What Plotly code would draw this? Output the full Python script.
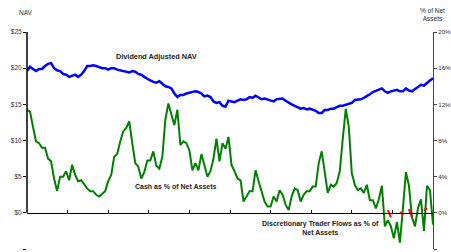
import plotly.graph_objects as go

# ---- data ----
periods = list(range(136))

nav_adjusted = [19.6,20.2,19.9,19.6,19.9,19.9,20.3,20.6,20.7,20.0,
                19.7,19.6,19.2,19.1,18.8,19.0,19.1,18.8,19.1,19.6,
                20.3,20.3,20.4,20.3,20.1,20.0,20.0,19.8,20.0,20.0,
                19.8,19.7,19.6,19.5,19.4,19.6,19.5,19.2,19.1,18.8,
                18.5,18.3,18.1,18.0,18.2,17.9,17.5,17.4,17.2,16.5,
                16.0,16.3,16.3,16.5,16.6,16.8,16.8,16.7,16.5,16.1,
                16.2,16.0,15.4,15.2,15.3,14.8,14.7,15.5,15.4,15.3,
                15.5,15.7,15.6,15.7,16.0,15.9,16.2,15.9,15.7,15.8,
                15.7,15.6,15.4,15.7,15.8,15.8,15.5,15.2,15.0,14.8,
                14.6,14.4,14.5,14.3,14.4,14.3,14.1,13.8,13.8,14.2,
                14.2,14.4,14.4,14.6,14.8,14.8,14.9,15.1,15.2,15.6,
                15.6,15.7,15.9,16.1,16.4,16.7,16.9,17.1,17.2,16.8,
                16.6,16.8,16.9,17.0,16.8,16.8,17.2,16.9,16.8,17.1,
                17.4,17.7,17.6,18.0,18.3,18.6]

cash_pct = [11.4,11.2,9.5,7.9,7.7,7.2,7.2,6.0,5.7,3.8,
            2.4,4.0,4.0,4.6,3.6,5.3,4.2,3.5,3.6,3.1,
            2.7,2.4,2.4,2.0,1.8,2.1,2.4,3.5,4.2,6.2,
            6.5,7.9,9.0,9.4,10.1,7.7,5.5,5.1,3.8,4.5,
            5.8,5.8,6.8,5.2,4.9,6.2,10.3,12.1,11.0,9.7,
            11.4,7.5,7.9,7.7,6.9,4.7,5.5,4.7,6.5,5.3,
            4.0,4.6,6.0,8.2,5.7,7.7,7.1,8.4,
            5.3,4.6,3.8,3.6,1.25,1.8,2.4,2.4,4.7,3.5,
            2.5,1.25,0.7,0.7,1.8,1.25,2.5,2.0,0.9,0.3,
            1.8,2.7,2.5,1.25,2.0,2.4,2.4,2.9,2.9,5.5,
            6.8,4.4,2.2,3.1,2.9,3.3,4.6,8.2,11.5,9.5,
            4.4,3.1,2.5,2.7,2.2,3.1,1.4,
            1.4,0.5,1.5,3.0,-1.5,-0.8,-1.5,-2.8,-1.0,-3.3,
            0.5,4.5,3.0,-0.5,-1.5,0.5,1.5,-2.0,3.0,2.5,-1.3]

trader_flows_pct = [None]*120 + [0.3,-0.5,None,None,0.1,-0.2,None,0.4,-0.5,
                                 None,None,None,0.3,0.5,None,None]

nav_tickvals = [25, 20, 15, 10, 5, 0, -5]
nav_ticktext = ["$25", "$20", "$15", "$10", "$5", "$0", "-$5"]
pct_tickvals = [20, 16, 12, 8, 4, 0, -4]
pct_ticktext = ["20%", "16%", "12%", "8%", "4%", "0%", "-4%"]

FONT = "Liberation Sans, Arial, sans-serif"

fig = go.Figure()
fig.add_trace(go.Scatter(x=periods, y=nav_adjusted, mode="lines",
                         line=dict(color="#0000FF", width=2.5), yaxis="y"))
fig.add_trace(go.Scatter(x=periods, y=cash_pct, mode="lines",
                         line=dict(color="#008000", width=2), yaxis="y2"))
fig.add_trace(go.Scatter(x=periods, y=trader_flows_pct, mode="lines",
                         line=dict(color="#FF0000", width=2), yaxis="y2",
                         connectgaps=False))

zero_pos = 5 / 30.0


def label(text, x, y, size, color="#222222"):
    return dict(text=text, xref="paper", yref="paper", x=x, y=y,
                xanchor="center", yanchor="middle", showarrow=False,
                font=dict(family=FONT, size=size, color=color))


fig.update_layout(
    width=451, height=252,
    margin=dict(l=27, r=18, t=32, b=3, autoexpand=False),
    paper_bgcolor="white", plot_bgcolor="white",
    showlegend=False,
    font=dict(family=FONT, size=6.5, color="#333333"),
    xaxis=dict(range=[0, 135], showgrid=False, zeroline=False,
               showline=True, linecolor="#000000", linewidth=1,
               ticks="inside", ticklen=3, tickcolor="#000000",
               tick0=0, dtick=13.5, showticklabels=False,
               anchor="free", position=zero_pos, automargin=False),
    yaxis=dict(range=[-5, 25], showgrid=False, zeroline=False,
               showline=False, ticks="outside", ticklen=3,
               tickcolor="#000000", tickvals=nav_tickvals,
               ticktext=nav_ticktext, automargin=False,
               tickfont=dict(size=6.5, color="#333333")),
    yaxis2=dict(range=[-4, 20], overlaying="y", side="right",
                showgrid=False, zeroline=False, showline=True,
                linecolor="#444444", linewidth=1, ticks="outside",
                ticklen=3, tickcolor="#444444", tickvals=pct_tickvals,
                ticktext=pct_ticktext, automargin=False,
                tickfont=dict(size=6.2, color="#333333")),
    shapes=[dict(type="line", xref="paper", yref="y", x0=0, x1=0,
                 y0=0, y1=25, line=dict(color="#000000", width=1.5))],
    annotations=[
        label("<b>Dividend Adjusted NAV</b>", 0.32, 0.885, 7.3),
        label("<b>Cash as % of Net Assets</b>", 0.367, 0.286, 7),
        label("<b>Discretionary Trader Flows as % of<br>Net Assets</b>",
              0.724, 0.097, 7),
        label("NAV", -0.002, 1.092, 6.5, "#333333"),
        label("% of Net<br>Assets", 0.998, 1.08, 6.5, "#333333"),
    ],
)

fig.write_html("out.html", config={"displayModeBar": False},
               post_script="document.body.style.margin='0';"
                           "document.body.style.overflow='hidden';")
